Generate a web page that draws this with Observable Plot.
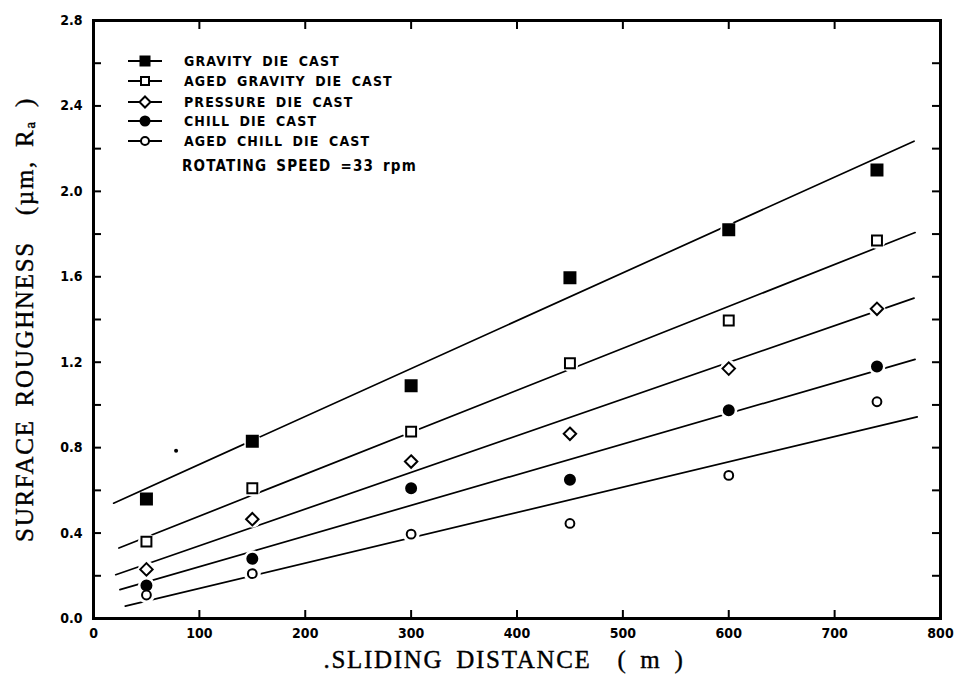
<!DOCTYPE html>
<html>
<head>
<meta charset="utf-8">
<script src="https://cdn.jsdelivr.net/npm/d3@7"></script>
<script src="https://cdn.jsdelivr.net/npm/@observablehq/plot@0.6"></script>
<style>
  html, body { margin: 0; padding: 0; background: #fff; }
  #wrap { position: relative; width: 956px; height: 692px; overflow: hidden; }
  #legend { position: absolute; left: 0; top: 0; font-family: "DejaVu Sans Condensed", "DejaVu Sans", sans-serif; font-weight: bold; color: #000; }
  .entry { position: absolute; left: 126px; display: flex; align-items: center; white-space: nowrap; }
  .entry svg { display: block; }
  .entry span { margin-left: 20px; font-size: 14px; letter-spacing: 1.1px; word-spacing: 4px; }
  .note { position: absolute; left: 182px; white-space: nowrap; font-size: 15px; font-weight: 900; letter-spacing: 1.2px; word-spacing: 3px; }
</style>
</head>
<body>
<div id="wrap"></div>
<script>
// ---- data ----
const series = ["GRAVITY DIE CAST", "AGED GRAVITY DIE CAST", "PRESSURE DIE CAST", "CHILL DIE CAST", "AGED CHILL DIE CAST"];
const distances = [50, 150, 300, 450, 600, 740];
const gravity     = [0.56, 0.83, 1.09, 1.595, 1.82, 2.10];
const agedGravity = [0.36, 0.61, 0.875, 1.195, 1.395, 1.77];
const pressure    = [0.23, 0.465, 0.735, 0.865, 1.17, 1.45];
const chill       = [0.155, 0.28, 0.61, 0.65, 0.975, 1.18];
const agedChill   = [0.11, 0.21, 0.395, 0.445, 0.67, 1.015];
// fitted straight lines: start and end per series
const fitStartX = [19, 24, 21, 25, 30];
const fitStartY = [0.54, 0.33, 0.205, 0.135, 0.058];
const fitEndX   = [775, 776, 775, 776, 778];
const fitEndY   = [2.235, 1.807, 1.50, 1.213, 0.944];
// stray speck in the scan
const speckX = [78];
const speckY = [0.785];
const xTicks = [0, 100, 200, 300, 400, 500, 600, 700, 800];
const yTicks = [0.0, 0.4, 0.8, 1.2, 1.6, 2.0, 2.4, 2.8];
const yMinorTicks = [0.2, 0.4, 0.6, 0.8, 1.0, 1.2, 1.4, 1.6, 1.8, 2.0, 2.2, 2.4, 2.6];
const rotatingSpeed = "ROTATING SPEED  =33 rpm";
const yTitle = "SURFACE ROUGHNESS  (\u00b5m, R\u2090 )";
const xTitle = ".SLIDING DISTANCE  ( m )";

// ---- styles per series ----
const values = [gravity, agedGravity, pressure, chill, agedChill];
const symbols = ["square", "square", "diamond2", "circle", "circle"];
const fills = ["black", "white", "white", "black", "white"];
const radii = [6.2, 5.6, 5.6, 5, 4.4];

const points = [];
series.forEach((s, i) => distances.forEach((d, j) => points.push({series: s, i, x: d, y: values[i][j]})));
const fits = [];
series.forEach((s, i) => {
  fits.push({series: s, x: fitStartX[i], y: fitStartY[i]});
  fits.push({series: s, x: fitEndX[i], y: fitEndY[i]});
});
const specks = speckX.map((x, k) => ({x, y: speckY[k]}));

const tickFont = {fontFamily: "DejaVu Sans Condensed, DejaVu Sans, sans-serif", fontWeight: "bold", fontSize: 14};
const noText = () => "";

const chart = Plot.plot({
  width: 956,
  height: 692,
  marginLeft: 93,
  marginRight: 16,
  marginTop: 20,
  marginBottom: 74,
  x: {domain: [0, 800]},
  y: {domain: [0, 2.8]},
  style: {background: "white", color: "black"},
  marks: [
    Plot.line(fits, {x: "x", y: "y", z: "series", stroke: "black", strokeWidth: 1.7}),
    Plot.dot(points, {x: "x", y: "y", r: 8.5, fill: "white"}),
    ...series.map((s, i) => Plot.dot(points.filter(p => p.i === i), {
      x: "x", y: "y", symbol: symbols[i], r: radii[i],
      fill: fills[i], stroke: "black", strokeWidth: 2
    })),
    Plot.dot(specks, {x: "x", y: "y", r: 2, fill: "black"}),
    // inward ticks on all sides
    Plot.axisY({ticks: yMinorTicks, anchor: "left", tickSize: -8, tickFormat: noText, label: null, strokeWidth: 2}),
    Plot.axisY({ticks: yMinorTicks, anchor: "right", tickSize: -9, tickFormat: noText, label: null, strokeWidth: 2}),
    Plot.axisX({ticks: xTicks.slice(1, -1), anchor: "bottom", tickSize: -8, tickFormat: noText, label: null, strokeWidth: 2}),
    Plot.axisX({ticks: xTicks.slice(1, -1), anchor: "top", tickSize: -8, tickFormat: noText, label: null, strokeWidth: 2}),
    // tick labels
    Plot.axisY({ticks: yTicks, anchor: "left", tickSize: 0, tickPadding: 11, tickFormat: d => d.toFixed(1), label: null, ...tickFont}),
    Plot.axisX({ticks: xTicks, anchor: "bottom", tickSize: 0, tickPadding: 10, tickFormat: d => String(d), label: null, ...tickFont}),
    Plot.frame({stroke: "black", strokeWidth: 3}),
    Plot.text([yTitle], {frameAnchor: "left", textAnchor: "middle", dx: -69, dy: 0, rotate: -90, fontFamily: "Liberation Serif, serif", fontSize: 25, fill: "black", stroke: "black", strokeWidth: 0.4}),
    Plot.text([xTitle], {frameAnchor: "bottom", textAnchor: "middle", dx: -13, dy: 49, fontFamily: "Liberation Serif, serif", fontSize: 25, fill: "black", stroke: "black", strokeWidth: 0.4})
  ]
});

// widen the letter spacing of the two axis titles as in the scan
d3.select(chart).selectAll("text")
  .filter(function () { const t = this.textContent; return t === yTitle || t === xTitle; })
  .attr("letter-spacing", "1.7px")
  .attr("word-spacing", "5px");

const wrap = document.getElementById("wrap");
wrap.appendChild(chart);

// legend overlay inside the plot frame
const legend = document.createElement("div");
legend.id = "legend";
const rowCenters = [62, 82, 103, 122, 142];
function symbolSvg(i) {
  const w = 38, h = 16, cx = 19, cy = 8;
  let m = "";
  if (symbols[i] === "square") {
    const s = fills[i] === "black" ? 9 : 8;
    m = `<rect x="${cx - s/2}" y="${cy - s/2}" width="${s}" height="${s}" fill="${fills[i]}" stroke="black" stroke-width="2"/>`;
  } else if (symbols[i] === "diamond2") {
    m = `<path d="M${cx},${cy-5.5}L${cx+5.5},${cy}L${cx},${cy+5.5}L${cx-5.5},${cy}Z" fill="white" stroke="black" stroke-width="2"/>`;
  } else {
    m = `<circle cx="${cx}" cy="${cy}" r="${fills[i] === "black" ? 4.5 : 4}" fill="${fills[i]}" stroke="black" stroke-width="2"/>`;
  }
  return `<svg width="${w}" height="${h}"><line x1="2" y1="${cy}" x2="${w-2}" y2="${cy}" stroke="black" stroke-width="2"/>${m}</svg>`;
}
series.forEach((s, i) => {
  const e = document.createElement("div");
  e.className = "entry";
  e.style.top = (rowCenters[i] - 9) + "px";
  e.innerHTML = symbolSvg(i) + `<span>${s}</span>`;
  legend.appendChild(e);
});
const note = document.createElement("div");
note.className = "note";
note.style.top = "157px";
note.textContent = rotatingSpeed;
legend.appendChild(note);
wrap.appendChild(legend);
</script>
</body>
</html>
